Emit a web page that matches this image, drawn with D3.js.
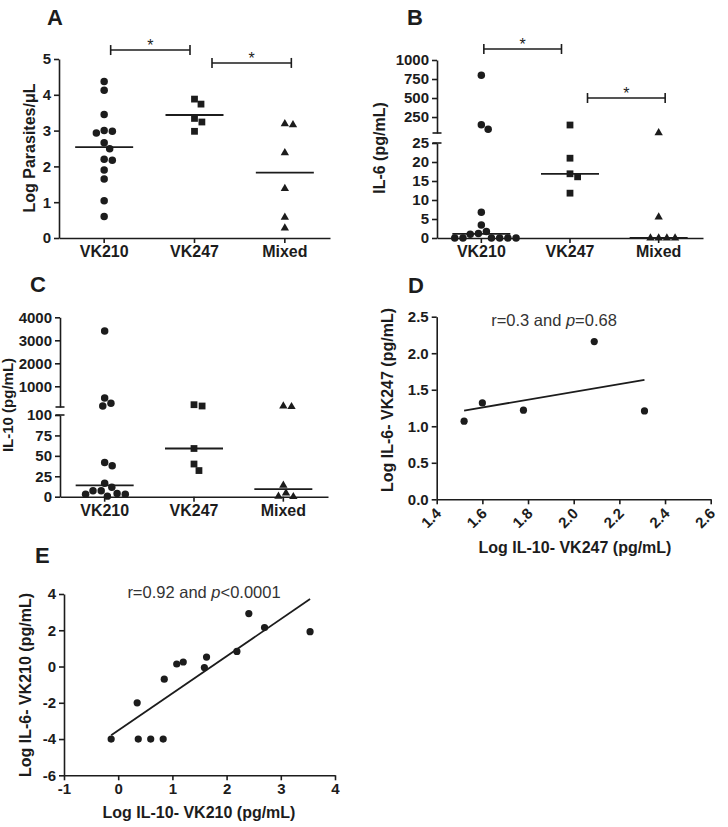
<!DOCTYPE html>
<html><head><meta charset="utf-8">
<script src="https://cdn.jsdelivr.net/npm/d3@7"></script>
<style>
body{margin:0;background:#fff}
svg{display:block}
</style>
</head><body>
<svg id="chart" width="728" height="827"></svg>
<script>
// ---------------- DATA ----------------
const categories = ["VK210", "VK247", "Mixed"];

// Panel A: Log Parasites/µL (line = mean)
const parasitesVK210 = [4.37, 4.13, 3.45, 3.0, 2.93, 2.98, 2.66, 2.49, 2.2, 2.17, 1.9, 1.65, 1.04, 0.6];
const parasitesVK247 = [3.88, 3.74, 3.34, 3.24, 2.98];
const parasitesMixed = [3.19, 3.16, 2.38, 1.38, 0.58, 0.28];
const parasitesTicks = [0, 1, 2, 3, 4, 5];

// Panel B: IL-6 (pg/mL) (line = median), segmented axis
const il6VK210 = [800, 150, 90, 6.8, 3.4, 1.7, 1.2, 1.0, 0, 0, 0, 0, 0, 0];
const il6VK247 = [145, 21, 16.9, 16.1, 11.8];
const il6Mixed = [42, 5.5, 0, 0, 0, 0];
const il6TicksLow = [0, 5, 10, 15, 20, 25];
const il6TicksHigh = [250, 500, 750, 1000];

// Panel C: IL-10 (pg/mL) (line = median), segmented axis
const il10VK210 = [3400, 490, 260, 143, 42, 38, 16.4, 11.5, 7.3, 7.3, 3.8, 2.9, 2.9, 0.7];
const il10VK247 = [200, 143, 59, 40, 32];
const il10Mixed = [143, 113, 14, 4.5, 0.5, 0];
const il10TicksLow = [0, 25, 50, 75, 100];
const il10TicksHigh = [1000, 2000, 3000, 4000];

// Panel D: Log IL-10 vs Log IL-6, VK247
const logIL10VK247 = [1.52, 1.60, 1.78, 2.09, 2.31];
const logIL6VK247 = [1.07, 1.32, 1.22, 2.16, 1.21];
const dTicksX = [1.4, 1.6, 1.8, 2.0, 2.2, 2.4, 2.6];
const dTicksY = [0.0, 0.5, 1.0, 1.5, 2.0, 2.5];

// Panel E: Log IL-10 vs Log IL-6, VK210
const logIL10VK210 = [-0.13, 0.35, 0.37, 0.60, 0.83, 0.85, 1.08, 1.20, 1.59, 1.63, 2.19, 2.41, 2.70, 3.54];
const logIL6VK210 = [-4.0, -2.0, -4.0, -4.0, -4.0, -0.7, 0.14, 0.25, -0.06, 0.52, 0.83, 2.92, 2.15, 1.92];
const eTicksX = [-1, 0, 1, 2, 3, 4];
const eTicksY = [-6, -4, -2, 0, 2, 4];

// significance brackets: [from, to, level]
const bracketsA = [["VK210", "VK247", 5.25], ["VK247", "Mixed", 4.89]];
const bracketsB = [["VK210", "VK247", 1145], ["VK247", "Mixed", 500]];

// ---------------- STYLE ----------------
const FONT = '"Liberation Sans", Arial, Helvetica, sans-serif';
const INK = "#1c1c1c";
const svg = d3.select("#chart");
const plain = d => String(d);

function styleAxis(g, size) {
  g.selectAll("path.domain, line").attr("stroke", INK).attr("stroke-width", 1.6);
  g.selectAll("text").attr("font-family", FONT).attr("font-weight", "bold")
    .attr("font-size", size || 15).attr("fill", INK);
}
function panelLetter(t, x, y) {
  svg.append("text").attr("x", x).attr("y", y).text(t)
    .attr("font-family", FONT).attr("font-weight", "bold").attr("font-size", 22).attr("fill", INK);
}
function yTitle(t, x, y, size) {
  svg.append("text").attr("transform", `translate(${x},${y}) rotate(-90)`)
    .attr("text-anchor", "middle").text(t)
    .attr("font-family", FONT).attr("font-weight", "bold").attr("font-size", size || 16).attr("fill", INK);
}
function xTitle(t, x, y) {
  svg.append("text").attr("x", x).attr("y", y).attr("text-anchor", "middle").text(t)
    .attr("font-family", FONT).attr("font-weight", "bold").attr("font-size", 16).attr("fill", INK);
}
function annotation(pre, it, post, x, y) {
  const t = svg.append("text").attr("x", x).attr("y", y).attr("text-anchor", "middle")
    .attr("font-family", FONT).attr("font-size", 16.5).attr("fill", "#333");
  t.append("tspan").text(pre);
  t.append("tspan").attr("font-style", "italic").text(it);
  t.append("tspan").text(post);
}

// simple beeswarm (computed from the data, in pixel space)
function swarm(values, yFn, cx, minDist) {
  const items = values.map(v => ({ v, y: yFn(v) })).sort((a, b) => a.y - b.y);
  const placed = [];
  for (const it of items) {
    const cands = [0];
    for (const p of placed) {
      const dy = Math.abs(p.y - it.y);
      if (dy < minDist) {
        const dx = Math.sqrt(minDist * minDist - dy * dy);
        cands.push(p.dx + dx + 0.01, p.dx - dx - 0.01);
      }
    }
    cands.sort((a, b) => Math.abs(a) - Math.abs(b) || b - a);
    for (const c of cands) {
      if (placed.every(p => (p.dx - c) ** 2 + (p.y - it.y) ** 2 >= minDist * minDist - 0.05)) { it.dx = c; break; }
    }
    placed.push(it);
  }
  return items.map(it => ({ v: it.v, x: cx + it.dx, y: it.y }));
}

const symbolsByCat = { VK210: d3.symbolCircle, VK247: d3.symbolSquare, Mixed: d3.symbolTriangle };
const symbolSize = { VK210: 44, VK247: 46, Mixed: 30 };

function drawDots(groups, xBand, yFn, statFn) {
  groups.forEach(([cat, vals]) => {
    const cx = xBand(cat) + xBand.bandwidth() / 2;
    const pts = swarm(vals, yFn, cx, 8.2);
    svg.append("g").selectAll("path").data(pts).join("path")
      .attr("transform", d => `translate(${d.x},${d.y})`)
      .attr("d", d3.symbol().type(symbolsByCat[cat]).size(symbolSize[cat]))
      .attr("fill", INK);
    const s = yFn(statFn(vals));
    svg.append("line").attr("x1", cx - 29).attr("x2", cx + 29).attr("y1", s).attr("y2", s)
      .attr("stroke", INK).attr("stroke-width", 1.8);
  });
}
function drawBrackets(list, xBand, yFn, shifts) {
  list.forEach(([a, b, lvl], i) => {
    const mid = (xBand(a) + xBand(b)) / 2 + xBand.bandwidth() / 2 + shifts[i];
    const half = (xBand.bandwidth() - 11) / 2;
    const y = yFn(lvl);
    const g = svg.append("g").attr("stroke", INK).attr("stroke-width", 1.6);
    g.append("line").attr("x1", mid - half).attr("x2", mid + half).attr("y1", y).attr("y2", y);
    g.append("line").attr("x1", mid - half).attr("x2", mid - half).attr("y1", y - 5).attr("y2", y + 5);
    g.append("line").attr("x1", mid + half).attr("x2", mid + half).attr("y1", y - 5).attr("y2", y + 5);
    svg.append("text").attr("x", mid).attr("y", y + 1).attr("text-anchor", "middle").text("*")
      .attr("font-family", FONT).attr("font-size", 16).attr("fill", INK);
  });
}
function breakCaps(x, ys) {
  ys.forEach(y => svg.append("line").attr("x1", x - 4.5).attr("x2", x + 4.5).attr("y1", y).attr("y2", y)
    .attr("stroke", INK).attr("stroke-width", 1.6));
}

// ---------------- PANEL A ----------------
{
  const x = d3.scaleBand().domain(categories).range([59, 330]);
  const y = d3.scaleLinear().domain([0, 5]).range([238, 59]);
  svg.append("g").attr("transform", "translate(59,0)")
    .call(d3.axisLeft(y).tickValues(parasitesTicks).tickFormat(plain).tickSize(5).tickSizeOuter(0)).call(styleAxis);
  svg.append("g").attr("transform", "translate(0,238)")
    .call(d3.axisBottom(x).tickSize(5).tickSizeOuter(0)).call(g => styleAxis(g, 16));
  drawDots([["VK210", parasitesVK210], ["VK247", parasitesVK247], ["Mixed", parasitesMixed]], x, y, d3.mean);
  drawBrackets(bracketsA, x, y, [1, 12]);
  panelLetter("A", 47, 25);
  yTitle("Log Parasites/\u03bcL", 35, 148);
}

// ---------------- PANEL B ----------------
{
  const x = d3.scaleBand().domain(categories).range([437, 703]);
  const yLow = d3.scaleLinear().domain([0, 25]).range([238, 143]);
  const yHigh = d3.scaleLinear().domain([40, 1000]).range([133, 60]);
  const y = v => (v <= 25 ? yLow(v) : yHigh(v));
  svg.append("g").attr("transform", "translate(437,0)")
    .call(d3.axisLeft(yLow).tickValues(il6TicksLow).tickFormat(plain).tickSize(5).tickSizeOuter(0)).call(styleAxis);
  svg.append("g").attr("transform", "translate(437,0)")
    .call(d3.axisLeft(yHigh).tickValues(il6TicksHigh).tickFormat(plain).tickSize(5).tickSizeOuter(0)).call(styleAxis);
  breakCaps(437, [133, 143]);
  svg.append("g").attr("transform", "translate(0,238)")
    .call(d3.axisBottom(x).tickSize(5).tickSizeOuter(0)).call(g => styleAxis(g, 16));
  drawDots([["VK210", il6VK210], ["VK247", il6VK247], ["Mixed", il6Mixed]], x, y, d3.median);
  drawBrackets(bracketsB, x, yHigh, [-3, 12]);
  panelLetter("B", 407, 25);
  yTitle("IL-6 (pg/mL)", 385, 148);
}

// ---------------- PANEL C ----------------
{
  const x = d3.scaleBand().domain(categories).range([60, 328]);
  const yLow = d3.scaleLinear().domain([0, 100]).range([496.7, 415]);
  const yHigh = d3.scaleLinear().domain([100, 4000]).range([407, 317.3]);
  const y = v => (v <= 100 ? yLow(v) : yHigh(v));
  svg.append("g").attr("transform", "translate(60,0)")
    .call(d3.axisLeft(yLow).tickValues(il10TicksLow).tickFormat(plain).tickSize(5).tickSizeOuter(0)).call(styleAxis);
  svg.append("g").attr("transform", "translate(60,0)")
    .call(d3.axisLeft(yHigh).tickValues(il10TicksHigh).tickFormat(plain).tickSize(5).tickSizeOuter(0)).call(styleAxis);
  breakCaps(60, [407, 415]);
  svg.append("g").attr("transform", "translate(0,496.7)")
    .call(d3.axisBottom(x).tickSize(5).tickSizeOuter(0)).call(g => styleAxis(g, 16));
  drawDots([["VK210", il10VK210], ["VK247", il10VK247], ["Mixed", il10Mixed]], x, y, d3.median);
  panelLetter("C", 30, 292);
  yTitle("IL-10 (pg/mL)", 13, 405, 15);
}

function ols(xs, ys) {
  const mx = d3.mean(xs), my = d3.mean(ys);
  const b = d3.sum(xs, (v, i) => (v - mx) * (ys[i] - my)) / d3.sum(xs, v => (v - mx) ** 2);
  return v => my + b * (v - mx);
}

// ---------------- PANEL D ----------------
{
  const x = d3.scaleLinear().domain([1.4, 2.6]).range([436.7, 710.7]);
  const y = d3.scaleLinear().domain([0, 2.5]).range([499.3, 316.7]);
  svg.append("g").attr("transform", "translate(436.7,0)")
    .call(d3.axisLeft(y).tickValues(dTicksY).tickFormat(d3.format(".1f")).tickSize(5).tickSizeOuter(0)).call(styleAxis);
  svg.append("g").attr("transform", "translate(0,499.3)")
    .call(d3.axisBottom(x).tickValues(dTicksX).tickFormat(d3.format(".1f")).tickSize(5).tickSizeOuter(0))
    .call(styleAxis)
    .call(g => g.selectAll(".tick text").attr("x", 0).attr("y", 0).attr("dy", null)
      .attr("text-anchor", "end").attr("transform", "translate(5,15) rotate(-45)"));
  const f = ols(logIL10VK247, logIL6VK247);
  const [x0, x1] = d3.extent(logIL10VK247);
  svg.append("line").attr("x1", x(x0)).attr("x2", x(x1)).attr("y1", y(f(x0))).attr("y2", y(f(x1)))
    .attr("stroke", INK).attr("stroke-width", 1.8);
  svg.append("g").selectAll("circle").data(logIL10VK247).join("circle")
    .attr("cx", d => x(d)).attr("cy", (d, i) => y(logIL6VK247[i])).attr("r", 3.6).attr("fill", INK);
  annotation("r=0.3 and ", "p", "=0.68", 554, 326);
  panelLetter("D", 408, 293);
  yTitle("Log IL-6- VK247 (pg/mL)", 393, 400);
  xTitle("Log IL-10- VK247 (pg/mL)", 575, 553);
}

// ---------------- PANEL E ----------------
{
  const x = d3.scaleLinear().domain([-1, 4]).range([64, 335]);
  const y = d3.scaleLinear().domain([-6, 4]).range([775.3, 594]);
  svg.append("g").attr("transform", "translate(64,0)")
    .call(d3.axisLeft(y).tickValues(eTicksY).tickFormat(plain).tickSize(5).tickSizeOuter(0)).call(styleAxis);
  svg.append("g").attr("transform", "translate(0,775.3)")
    .call(d3.axisBottom(x).tickValues(eTicksX).tickFormat(plain).tickSize(5).tickSizeOuter(0)).call(styleAxis);
  const f = ols(logIL10VK210, logIL6VK210);
  const [x0, x1] = d3.extent(logIL10VK210);
  svg.append("line").attr("x1", x(x0)).attr("x2", x(x1)).attr("y1", y(f(x0))).attr("y2", y(f(x1)))
    .attr("stroke", INK).attr("stroke-width", 1.8);
  svg.append("g").selectAll("circle").data(logIL10VK210).join("circle")
    .attr("cx", d => x(d)).attr("cy", (d, i) => y(logIL6VK210[i])).attr("r", 3.6).attr("fill", INK);
  annotation("r=0.92 and ", "p", "<0.0001", 204, 598);
  panelLetter("E", 35, 563);
  yTitle("Log IL-6- VK210 (pg/mL)", 31, 685);
  xTitle("Log IL-10- VK210 (pg/mL)", 199, 818);
}
</script>
</body></html>
